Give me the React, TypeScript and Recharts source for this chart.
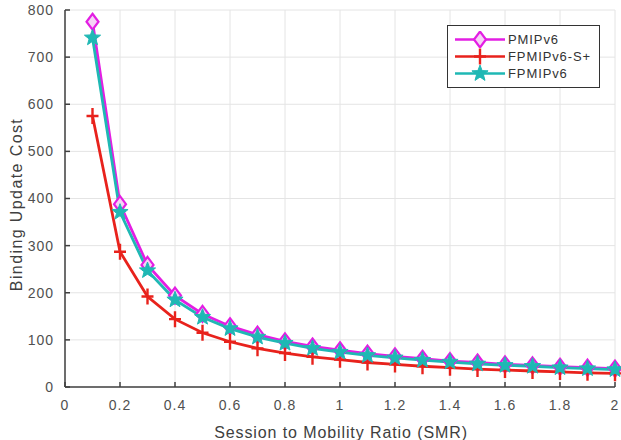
import React from 'react';
import {
  LineChart,
  Line,
  XAxis,
  YAxis,
  CartesianGrid,
  Legend,
} from 'recharts';

const smr = [0.1, 0.2, 0.3, 0.4, 0.5, 0.6, 0.7, 0.8, 0.9, 1.0, 1.1, 1.2, 1.3, 1.4, 1.5, 1.6, 1.7, 1.8, 1.9, 2.0];
const pmipv6 = [775, 388, 259, 194, 155, 129, 111, 97, 86, 78, 71, 65, 60, 55, 52, 48, 46, 43, 41, 39];
const fpmipv6S = [575, 287, 192, 144, 115, 96, 82, 72, 64, 58, 52, 48, 44, 41, 38, 36, 34, 32, 30, 29];
const fpmipv6 = [741, 371, 247, 185, 148, 124, 106, 93, 82, 74, 67, 62, 57, 53, 49, 46, 44, 41, 39, 37];

const xTicks = [0, 0.2, 0.4, 0.6, 0.8, 1, 1.2, 1.4, 1.6, 1.8, 2];
const yTicks = [0, 100, 200, 300, 400, 500, 600, 700, 800];

const MAGENTA = '#e31ee3';
const RED = '#e8221c';
const CYAN = '#1fb8b4';
const AXIS = '#404040';
const FONT = '"Liberation Sans", Arial, sans-serif';

const data = smr.map((x, i) => ({
  x,
  pmip: pmipv6[i],
  fpmipS: fpmipv6S[i],
  fpmip: fpmipv6[i],
}));

function starPoints(cx: number, cy: number, r: number) {
  const pts: string[] = [];
  for (let k = 0; k < 10; k++) {
    const rad = k % 2 === 0 ? r : r * 0.42;
    const a = -Math.PI / 2 + (k * Math.PI) / 5;
    pts.push(`${cx + rad * Math.cos(a)},${cy + rad * Math.sin(a)}`);
  }
  return pts.join(' ');
}

const Diamond = (cx: number, cy: number, key?: string) => (
  <polygon
    key={key}
    points={`${cx},${cy - 8} ${cx + 6},${cy} ${cx},${cy + 8} ${cx - 6},${cy}`}
    fill="#f6d2f6"
    stroke={MAGENTA}
    strokeWidth={2.2}
  />
);

const Plus = (cx: number, cy: number, key?: string) => (
  <path
    key={key}
    d={`M${cx - 6},${cy} L${cx + 6},${cy} M${cx},${cy - 8} L${cx},${cy + 8}`}
    stroke={RED}
    strokeWidth={2.4}
    fill="none"
  />
);

const Star = (cx: number, cy: number, key?: string) => (
  <polygon key={key} points={starPoints(cx, cy, 8.5)} fill={CYAN} stroke={CYAN} strokeWidth={1} />
);

const legendItems = [
  { name: 'PMIPv6', color: MAGENTA, marker: Diamond },
  { name: 'FPMIPv6-S+', color: RED, marker: Plus },
  { name: 'FPMIPv6', color: CYAN, marker: Star },
];

function renderLegend() {
  return (
    <div
      style={{
        border: '1.5px solid #333',
        background: '#fff',
        width: 153,
        height: 63,
        padding: '5px 0 0 0',
        boxSizing: 'border-box',
        fontFamily: FONT,
      }}
    >
      {legendItems.map((it) => (
        <div key={it.name} style={{ display: 'flex', alignItems: 'center', height: 17 }}>
          <svg width={60} height={17} style={{ flex: 'none' }}>
            <line x1={7} y1={8.5} x2={57} y2={8.5} stroke={it.color} strokeWidth={2.5} />
            {it.marker(32, 8.5)}
          </svg>
          <span style={{ fontSize: 13, color: '#333', letterSpacing: 0.9 }}>{it.name}</span>
        </div>
      ))}
    </div>
  );
}

const tickStyle = { fontSize: 14, fill: '#505050', fontFamily: FONT, letterSpacing: 1 };

const YLabel = (props: any) => {
  const vb = props.viewBox || {};
  const cy = vb.y + vb.height / 2 + 6;
  return (
    <text
      x={18}
      y={cy}
      transform={`rotate(-90, 18, ${cy})`}
      textAnchor="middle"
      dominantBaseline="middle"
      fontSize={16}
      fill="#404040"
      fontFamily={FONT}
      letterSpacing={1.4}
    >
      Binding Update Cost
    </text>
  );
};

const XLabel = (props: any) => {
  const vb = props.viewBox || {};
  const cx = vb.x + vb.width / 2 + 1;
  return (
    <text
      x={cx}
      y={438}
      textAnchor="middle"
      fontSize={16}
      fill="#404040"
      fontFamily={FONT}
      letterSpacing={0.9}
    >
      Session to Mobility Ratio (SMR)
    </text>
  );
};

export default function App() {
  return (
    <div style={{ position: 'absolute', left: 0, top: 0, width: 621, height: 440, background: '#fff' }}>
      <LineChart width={621} height={440} data={data} margin={{ top: 10, right: 6, left: 0, bottom: 0 }}>
        <CartesianGrid stroke="#e4e4e4" strokeWidth={1} />
        <XAxis
          dataKey="x"
          type="number"
          domain={[0, 2]}
          ticks={xTicks}
          height={53}
          tick={tickStyle}
          tickSize={-5}
          tickMargin={18}
          stroke={AXIS}
          strokeWidth={1.5}
          tickFormatter={(v) => String(Number(v.toFixed(1)))}
          label={<XLabel />}
        />
        <XAxis
          xAxisId="top"
          orientation="top"
          type="number"
          domain={[0, 2]}
          ticks={xTicks}
          height={0}
          tick={false}
          tickSize={-5}
          stroke={AXIS}
          strokeWidth={1.5}
        />
        <YAxis
          type="number"
          domain={[0, 800]}
          ticks={yTicks}
          width={65}
          tick={tickStyle}
          tickSize={-5}
          tickMargin={16}
          stroke={AXIS}
          strokeWidth={1.5}
          label={<YLabel />}
        />
        <YAxis
          yAxisId="right"
          orientation="right"
          type="number"
          domain={[0, 800]}
          ticks={yTicks}
          width={0}
          tick={false}
          tickSize={-5}
          stroke={AXIS}
          strokeWidth={1.5}
        />
        <Legend
          layout="horizontal"
          verticalAlign="middle"
          align="center"
          content={renderLegend}
          wrapperStyle={{ left: 447, top: 25, width: 153, height: 63 }}
        />
        <Line
          dataKey="pmip"
          name="PMIPv6"
          stroke={MAGENTA}
          strokeWidth={2.8}
          isAnimationActive={false}
          dot={(p: any) => Diamond(p.cx, p.cy, `pm-${p.index}`)}
        />
        <Line
          dataKey="fpmipS"
          name="FPMIPv6-S+"
          stroke={RED}
          strokeWidth={2.8}
          isAnimationActive={false}
          dot={(p: any) => Plus(p.cx, p.cy, `fs-${p.index}`)}
        />
        <Line
          dataKey="fpmip"
          name="FPMIPv6"
          stroke={CYAN}
          strokeWidth={2.8}
          isAnimationActive={false}
          dot={(p: any) => Star(p.cx, p.cy, `fp-${p.index}`)}
        />
      </LineChart>
    </div>
  );
}
